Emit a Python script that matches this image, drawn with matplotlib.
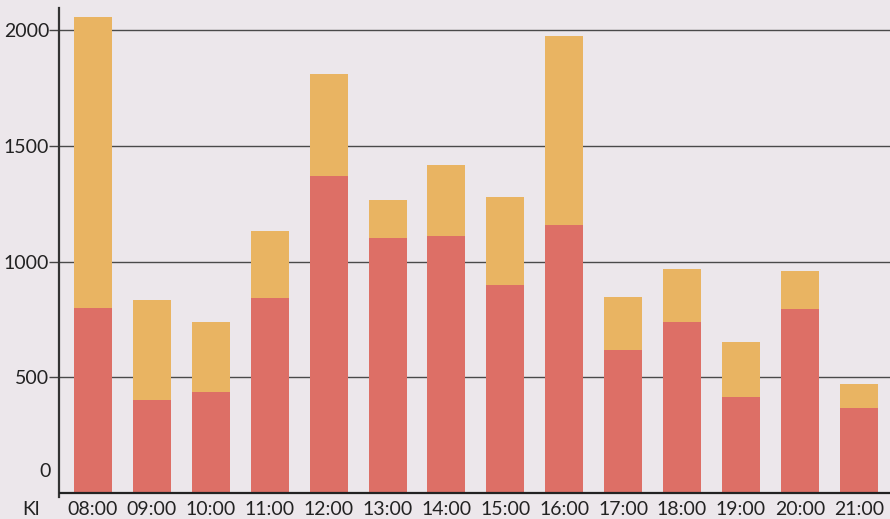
import matplotlib
matplotlib.use("Agg")
import matplotlib.pyplot as plt
import numpy as np

plt.rcParams['font.family'] = ['Lato', 'DejaVu Sans']

# hours and stacked values
hours = ["08:00", "09:00", "10:00", "11:00", "12:00", "13:00", "14:00",
         "15:00", "16:00", "17:00", "18:00", "19:00", "20:00", "21:00"]
red_vals = [800, 400, 436, 842, 1369, 1101, 1110, 898, 1158, 618, 739, 415, 795, 367]
totals = [2056, 834, 739, 1132, 1810, 1266, 1417, 1279, 1974, 847, 968, 652, 959, 471]
orange_vals = [t - r for t, r in zip(totals, red_vals)]
y_ticks = [500, 1000, 1500, 2000]

bg = "#ece7eb"
red = "#dd6f66"
orange = "#e9b462"
fs = 14

fig = plt.figure(figsize=(8.9, 5.19), dpi=100, facecolor=bg)
ax = fig.add_axes([0.0663, 0.0424, 0.9337, 0.9422], facecolor=bg)

x = np.arange(len(hours))
ax.bar(x, red_vals, width=0.645, color=red, zorder=3)
ax.bar(x, orange_vals, bottom=red_vals, width=0.645, color=orange, zorder=3)

ax.set_xlim(-0.577, 13.53)
ax.set_ylim(-17, 2095)

for v in y_ticks:
    ax.axhline(v, color="#4a4a4a", lw=1.0, zorder=1)
ax.axhline(0, color="#222222", lw=1.6, zorder=4)

ax.set_yticks(y_ticks)
ax.set_yticklabels([str(v) for v in y_ticks], fontsize=fs, color="#222222")
ax.tick_params(axis='y', length=7, width=1, color="#444444", pad=0)
ax.text(-0.72, 95, "0", ha='right', va='center', fontsize=fs, color="#222222")

ax.set_xticks(x)
ax.set_xticklabels(hours, fontsize=fs, color="#222222")
ax.tick_params(axis='x', length=0, pad=3)

for side in ["top", "right", "bottom"]:
    ax.spines[side].set_visible(False)
ax.spines["left"].set_color("#333333")
ax.spines["left"].set_linewidth(1.6)

fig.text(0.025, 0.002, "Kl", fontsize=fs, color="#222222", ha='left', va='bottom')

fig.savefig("out.png", dpi=100, facecolor=bg)
